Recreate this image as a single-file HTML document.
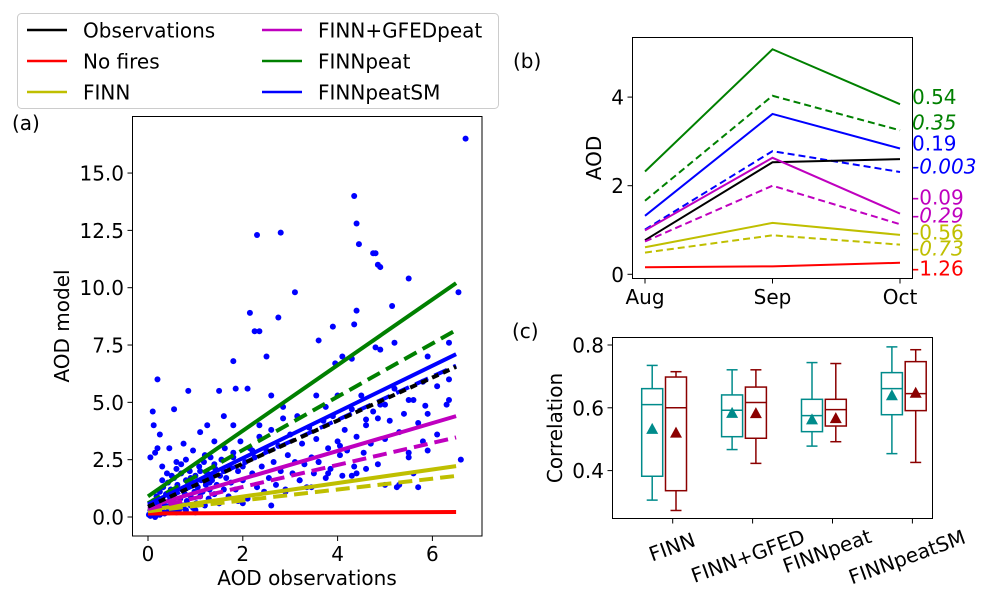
<!DOCTYPE html>
<html><head><meta charset="utf-8"><style>
html,body{margin:0;padding:0;background:#fff}
svg{display:block;font-family:"DejaVu Sans","Liberation Sans",sans-serif}
</style></head><body>
<svg id="fig" width="990" height="598" viewBox="0 0 990 598">
<g id="gA"></g>
<g id="gB"></g>
<g id="gC"></g>
<g id="gL"></g>
</svg>
<script>
// ---------- Panel (a) data ----------
const scatterX = [0.02,0.05,0.08,0.1,0.12,0.15,0.18,0.2,0.22,0.25,0.28,0.3,0.32,0.35,0.38,0.4,0.42,0.45,0.48,0.5,0.52,0.55,0.58,0.6,0.62,0.65,0.68,0.7,0.72,0.75,0.78,0.8,0.82,0.85,0.88,0.9,0.92,0.95,0.98,1.0,1.02,1.05,1.08,1.1,1.12,1.15,1.18,1.2,1.22,1.25,1.28,1.3,1.32,1.35,1.4,1.42,1.45,1.5,1.52,1.55,1.6,1.62,1.65,1.7,1.72,1.75,1.8,1.85,1.9,1.95,2.0,2.05,2.1,2.15,2.2,2.25,2.3,2.35,2.4,2.45,2.5,2.55,2.6,2.65,2.7,2.75,2.8,2.85,2.9,2.95,3.0,3.05,3.1,3.15,3.2,3.25,3.3,3.35,3.4,3.45,3.5,3.55,3.6,3.7,3.75,3.8,3.85,3.9,4.0,4.05,4.1,4.15,4.2,4.3,4.35,4.4,4.5,4.55,4.6,4.7,4.75,4.85,4.9,5.0,5.1,5.2,5.3,5.4,5.5,5.6,5.7,5.8,5.9,6.1,6.3,6.35,
0.15,0.05,0.3,0.45,0.6,0.25,0.75,1.1,0.95,1.25,1.4,1.6,0.85,0.1,0.12,0.2,0.55,1.5,1.85,2.1,2.6,3.55,4.0,5.0,5.85,5.5,4.85,4.6,1.8,2.35,2.85,3.75,6.35,
6.7,4.35,4.4,4.45,2.3,2.8,4.75,4.8,4.85,4.9,5.5,6.55,3.1,4.4,5.15,2.15,2.75,4.35,2.25,2.35,3.9,3.6,5.2,6.35,4.1,4.8,4.9,5.9,3.95,2.5,4.3,1.8,0.2,
6.6,5.6,5.25,5.0,5.3,4.3,4.05,5.7,5.5,5.8,5.9,6.1,4.6,4.4,3.8,3.6,3.45,2.9,3.2,2.6,2.0,1.5,1.9,1.0,
0.05,0.1,0.15,0.2,0.25,0.3,0.35,0.4,0.45,0.5,0.55,0.6,0.65,0.7,0.8,0.9,1.0,0.3,0.5,0.7,0.9,1.1,1.3,0.4,0.6,0.8,1.2,1.4,1.6,1.8,2.0,2.2];
const scatterY = [0.1,0.3,0.5,0.2,0.7,0.4,0.9,0.1,0.6,1.1,0.3,0.8,1.3,0.5,1.0,0.2,1.5,0.7,1.2,0.4,0.9,1.7,0.6,1.1,1.4,0.3,0.8,1.9,1.2,0.5,1.0,1.6,0.7,1.3,2.0,0.9,1.5,0.4,1.1,1.8,0.6,1.3,2.2,0.9,1.6,1.1,2.4,0.5,1.4,1.9,0.8,1.2,2.6,1.6,1.0,2.1,1.4,0.6,1.8,2.5,1.2,3.0,1.7,0.9,2.2,1.5,2.8,1.2,2.0,3.3,1.6,2.4,0.8,3.0,1.9,2.6,1.3,3.5,2.2,1.1,2.9,1.7,3.8,2.4,1.4,3.1,2.0,4.3,1.2,2.7,3.6,1.9,2.4,4.4,1.6,3.2,2.3,1.3,3.9,2.6,1.9,3.4,2.4,4.2,1.7,3.0,2.1,4.4,3.3,2.7,1.8,3.8,2.9,4.7,2.2,3.5,5.3,2.8,4.0,3.2,4.6,2.3,4.9,3.4,4.2,5.6,3.7,4.5,2.8,5.1,4.1,5.9,4.5,5.7,4.9,6.0,
2.8,2.6,2.2,3.0,2.4,3.6,3.2,3.7,2.9,4.0,3.3,4.4,5.5,4.6,4.0,3.0,4.7,5.5,5.6,5.6,5.3,5.3,5.3,4.9,4.85,5.1,4.3,4.25,4.0,4.0,4.8,4.8,5.1,
16.5,14.0,12.8,11.9,12.3,12.4,11.5,11.5,11.0,10.9,10.4,9.8,9.8,9.0,9.2,8.9,8.7,8.4,8.1,8.1,8.3,7.7,7.6,7.6,7.0,7.4,7.3,7.0,6.7,7.0,6.9,6.8,6.0,
2.5,1.9,1.3,1.4,1.4,1.8,3.1,1.3,2.6,3.3,2.9,3.6,2.1,1.9,1.9,2.4,1.3,1.1,1.6,0.5,0.6,0.6,0.7,0.3,
0.05,0.15,0.0,0.25,0.1,0.35,0.15,0.45,0.2,0.3,0.5,0.2,0.6,0.4,0.3,0.5,0.2,1.6,1.8,2.3,1.7,2.0,1.5,1.9,2.1,2.5,2.7,2.3,2.0,2.6,2.2,2.9];
const fitNames = ["obs","nofire","finn","finnD","gfed","gfedD","peat","peatD","sm","smD"];
const fitStart = [0.45,0.15,0.3,0.25,0.45,0.35,0.9,0.6,0.55,0.45];
const fitEnd   = [6.55,0.22,2.22,1.79,4.4,3.47,10.2,8.15,7.1,6.6];
const fitColor = ["#000","#ff0000","#bfbf00","#bfbf00","#bf00bf","#bf00bf","#008000","#008000","#0000ff","#0000ff"];
const fitDash  = [true,false,false,true,false,true,false,true,false,true];
const aXTicks = [0,2,4,6];
const aYTicks = [0,2.5,5,7.5,10,12.5,15];
const aYTickLabels = ["0.0","2.5","5.0","7.5","10.0","12.5","15.0"];
// ---------- Panel (b) data ----------
const months = ["Aug","Sep","Oct"];
const bNames = ["peat","peatD","sm","smD","obs","gfed","gfedD","finn","finnD","nofire"];
const bValues = [[2.32,5.08,3.84],[1.66,4.03,3.25],[1.32,3.62,2.84],[1.01,2.78,2.31],[0.77,2.53,2.60],[0.99,2.63,1.37],[0.74,2.0,1.13],[0.61,1.16,0.89],[0.49,0.88,0.67],[0.16,0.18,0.26]];
const bColor = ["#008000","#008000","#0000ff","#0000ff","#000","#bf00bf","#bf00bf","#bfbf00","#bfbf00","#ff0000"];
const bDash = [false,true,false,true,false,false,true,false,true,false];
const bBias = ["0.54","0.35","0.19","-0.003","-0.09","-0.29","-0.56","-0.73","-1.26"];
const bBiasColor = ["#008000","#008000","#0000ff","#0000ff","#bf00bf","#bf00bf","#bfbf00","#bfbf00","#ff0000"];
const bBiasItalic = [false,true,false,true,false,true,false,true,false];
const bBiasY = [96.7,122,143,166,197,215,232,248,268];
const bYTicks = [0,2,4];
// ---------- Panel (c) data ----------
const cCats = ["FINN","FINN+GFED","FINNpeat","FINNpeatSM"];
const cTealLow=[0.306,0.467,0.478,0.454], cTealQ1=[0.382,0.508,0.524,0.578], cTealMed=[0.61,0.592,0.575,0.661], cTealQ3=[0.661,0.641,0.627,0.712], cTealHigh=[0.735,0.721,0.744,0.794], cTealMean=[0.533,0.584,0.563,0.64];
const cRedLow=[0.273,0.423,0.492,0.426], cRedQ1=[0.336,0.503,0.542,0.591], cRedMed=[0.6,0.617,0.594,0.645], cRedQ3=[0.698,0.666,0.627,0.747], cRedHigh=[0.715,0.721,0.741,0.785], cRedMean=[0.521,0.583,0.567,0.648];
const cYTicks=[0.4,0.6,0.8];
const cYTickLabels=["0.4","0.6","0.8"];

const NS="http://www.w3.org/2000/svg";
function mk(parent,tag,attrs,text){const e=document.createElementNS(NS,tag);for(const k in attrs)e.setAttribute(k,attrs[k]);if(text!==undefined)e.textContent=text;parent.appendChild(e);return e;}
const FS=20;

// ---------- Panel (a) ----------
const gA=document.getElementById('gA');
const ax=v=>148+v*47.4, ay=v=>517-v*22.93;
for(let i=0;i<scatterX.length;i++){
  const c=mk(gA,'circle',{cx:ax(scatterX[i]),cy:ay(scatterY[i]),r:3,fill:'#0000ff'});
  
  
}
const order=[1,3,2,5,4,7,6,9,8,0];
order.forEach(i=>{
  const l=mk(gA,'line',{x1:ax(0),y1:ay(fitStart[i]),x2:ax(6.5),y2:ay(fitEnd[i]),stroke:fitColor[i],'stroke-width':4});
  if(fitDash[i]) l.setAttribute('stroke-dasharray', i===0?'7,5':'14,7');
  
  
});
let fr=mk(gA,'rect',{x:132.5,y:116.5,width:349.5,height:419.5,fill:'none',stroke:'#000','stroke-width':1});

aXTicks.forEach(t=>{
  mk(gA,'line',{x1:ax(t),y1:536,x2:ax(t),y2:541,stroke:'#000'});
  const tx=mk(gA,'text',{x:ax(t),y:561,'font-size':FS,'text-anchor':'middle'},String(t));
  
});
aYTicks.forEach((t,i)=>{
  mk(gA,'line',{x1:127.5,y1:ay(t),x2:132.5,y2:ay(t),stroke:'#000'});
  const tx=mk(gA,'text',{x:124,y:ay(t)+7.5,'font-size':FS,'text-anchor':'end'},aYTickLabels[i]);
  
});
let t1=mk(gA,'text',{x:307,y:585,'font-size':FS,'text-anchor':'middle'},'AOD observations');

let t2=mk(gA,'text',{x:0,y:0,'font-size':FS,'text-anchor':'middle',transform:'translate(69,326) rotate(-90)'},'AOD model');

let t3=mk(gA,'text',{x:12,y:130,'font-size':FS},'(a)');


// ---------- Panel (b) ----------
const gB=document.getElementById('gB');
const bx=i=>645+i*127.5, by=v=>274.3-v*44.3;
bValues.forEach((vals,k)=>{
  const p=mk(gB,'polyline',{points:vals.map((v,i)=>bx(i)+','+by(v)).join(' '),fill:'none',stroke:bColor[k],'stroke-width':2});
  if(bDash[k]) p.setAttribute('stroke-dasharray','7,4');
  
  
});
let fb=mk(gB,'rect',{x:632.5,y:37.5,width:280,height:241,fill:'none',stroke:'#000'});

months.forEach((m,i)=>{
  mk(gB,'line',{x1:bx(i),y1:278.5,x2:bx(i),y2:283.5,stroke:'#000'});
  const tx=mk(gB,'text',{x:bx(i),y:304,'font-size':FS,'text-anchor':'middle'},m);
  
});
bYTicks.forEach(t=>{
  mk(gB,'line',{x1:627.5,y1:by(t),x2:632.5,y2:by(t),stroke:'#000'});
  const tx=mk(gB,'text',{x:624,y:by(t)+7.5,'font-size':FS,'text-anchor':'end'},String(t));
  
});
bBias.forEach((s,i)=>{
  const tx=mk(gB,'text',{x:912,y:bBiasY[i]+7.5,'font-size':FS,fill:bBiasColor[i],'font-style':bBiasItalic[i]?'italic':'normal'},s);
  
});
let t4=mk(gB,'text',{x:0,y:0,'font-size':FS,'text-anchor':'middle',transform:'translate(601,158) rotate(-90)'},'AOD');

let t5=mk(gB,'text',{x:513,y:68,'font-size':FS},'(b)');


// ---------- Panel (c) ----------
const gC=document.getElementById('gC');
const cx=i=>672.7+i*79.9, cy=v=>345+(0.8-v)*314;
function box(i,off,col,lo,q1,md,q3,hi,mn,name){
  const c=cx(i)+off,w=21,g=mk(gC,'g',{});
  
  
  mk(g,'rect',{x:c-w/2,y:cy(q3),width:w,height:cy(q1)-cy(q3),fill:'none',stroke:col,'stroke-width':1.5});
  mk(g,'line',{x1:c-w/2,y1:cy(md),x2:c+w/2,y2:cy(md),stroke:col,'stroke-width':1.5});
  mk(g,'line',{x1:c,y1:cy(q3),x2:c,y2:cy(hi),stroke:col,'stroke-width':1.5});
  mk(g,'line',{x1:c,y1:cy(q1),x2:c,y2:cy(lo),stroke:col,'stroke-width':1.5});
  mk(g,'line',{x1:c-5.5,y1:cy(hi),x2:c+5.5,y2:cy(hi),stroke:col,'stroke-width':1.5});
  mk(g,'line',{x1:c-5.5,y1:cy(lo),x2:c+5.5,y2:cy(lo),stroke:col,'stroke-width':1.5});
  const y=cy(mn);
  mk(g,'polygon',{points:`${c},${y-6} ${c-6},${y+5} ${c+6},${y+5}`,fill:col});
}
cCats.forEach((n,i)=>{
  box(i,-20.5,'#008b8b',cTealLow[i],cTealQ1[i],cTealMed[i],cTealQ3[i],cTealHigh[i],cTealMean[i],n+'-a');
  box(i,3.3,'#8b0000',cRedLow[i],cRedQ1[i],cRedMed[i],cRedQ3[i],cRedHigh[i],cRedMean[i],n+'-b');
});
let fc=mk(gC,'rect',{x:612.5,y:337.5,width:320,height:181,fill:'none',stroke:'#000'});

const cLabPos=[[672,547],[748,556],[827,551],[907,557]];
cCats.forEach((n,i)=>{
  mk(gC,'line',{x1:cx(i),y1:518.5,x2:cx(i),y2:523.5,stroke:'#000'});
  const tx=mk(gC,'text',{x:0,y:0,'font-size':FS,'text-anchor':'middle','dominant-baseline':'central',transform:`translate(${cLabPos[i][0]},${cLabPos[i][1]}) rotate(-20)`},n);
  
});
cYTicks.forEach((t,i)=>{
  mk(gC,'line',{x1:607.5,y1:cy(t),x2:612.5,y2:cy(t),stroke:'#000'});
  const tx=mk(gC,'text',{x:604,y:cy(t)+7.5,'font-size':FS,'text-anchor':'end'},cYTickLabels[i]);
  
});
let t6=mk(gC,'text',{x:0,y:0,'font-size':FS,'text-anchor':'middle',transform:'translate(562,428) rotate(-90)'},'Correlation');

let t7=mk(gC,'text',{x:512,y:338,'font-size':FS},'(c)');


// ---------- Legend ----------
const gL=document.getElementById('gL');
const legNames=["Observations","No fires","FINN","FINN+GFEDpeat","FINNpeat","FINNpeatSM"];
const legColors=["#000","#ff0000","#bfbf00","#bf00bf","#008000","#0000ff"];
let lb=mk(gL,'rect',{x:17.5,y:13.5,width:481,height:95,rx:4,fill:'#fff',stroke:'#ccc'});

legNames.forEach((n,i)=>{
  const col=Math.floor(i/3),row=i%3;
  const x0=col?262:27,y=30+row*31;
  const g=mk(gL,'g',{});
  
  
  mk(g,'line',{x1:x0,y1:y,x2:x0+40,y2:y,stroke:legColors[i],'stroke-width':2.5});
  mk(g,'text',{x:x0+56,y:y+7.5,'font-size':FS},n);
});
</script>
</body></html>
